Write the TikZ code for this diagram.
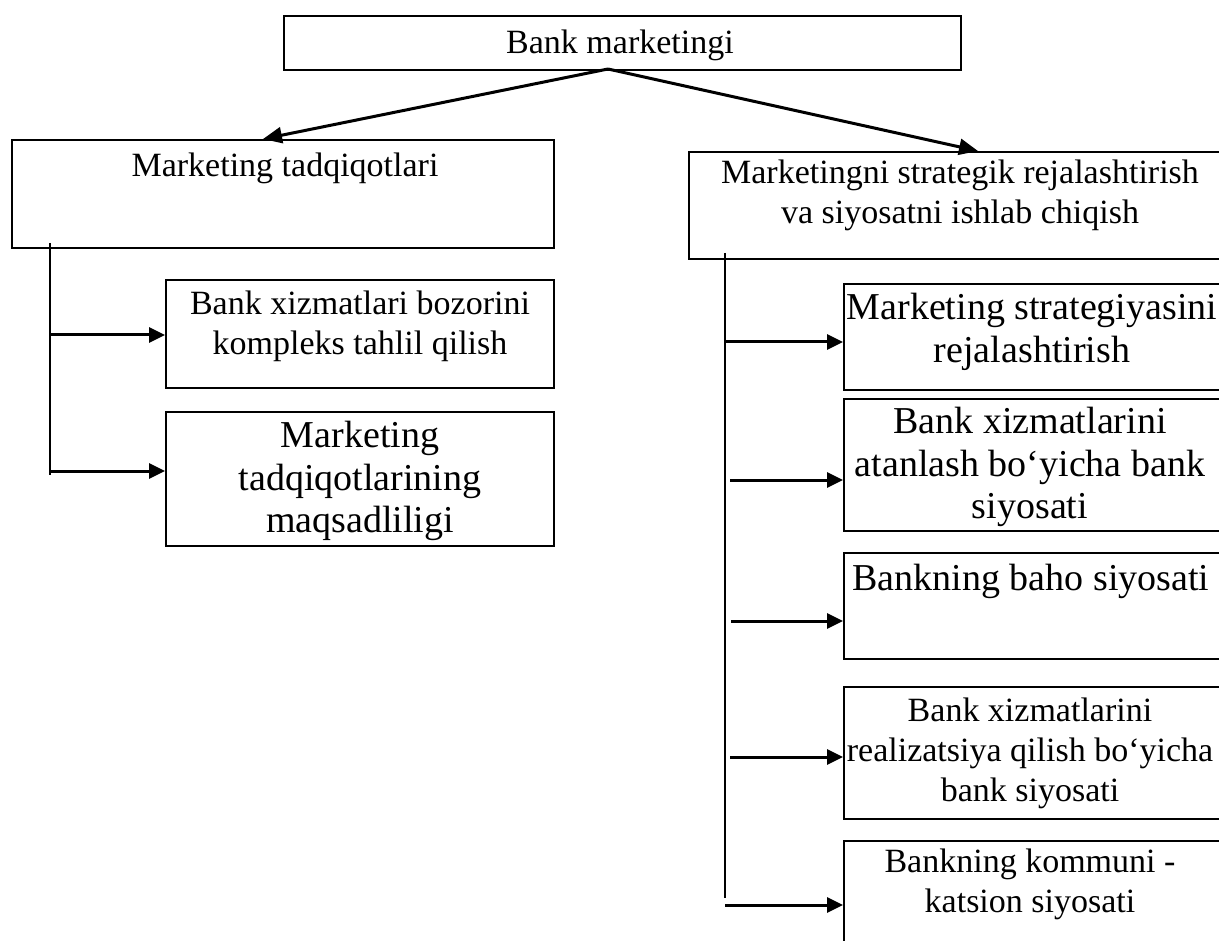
\documentclass[tikz,border=0pt]{standalone}
\usepackage{fontspec}
\setmainfont{Liberation Serif}
\usetikzlibrary{arrows.meta}
\begin{document}
\begin{tikzpicture}[x=1pt,y=-1pt,
  box/.style={draw,line width=2.1pt,inner sep=0pt,anchor=north west},
  txt/.style={align=center,inner sep=0pt,anchor=north},
  small/.style={font=\fontsize{34}{40}\selectfont},
  large/.style={font=\fontsize{38}{42.5}\selectfont},
  arr/.style={line width=3pt,-{Triangle[length=16pt,width=15pt]}},
  darr/.style={line width=3pt,-{Triangle[length=19pt,width=16pt]}},
  spine/.style={line width=1.9pt}]
\useasboundingbox (0,0) rectangle (1219,941);
\clip (0,0) rectangle (1219,941);

% boxes
\node[box,minimum width=677pt,minimum height=54pt]  (top)   at (283,15)  {};
\node[box,minimum width=542pt,minimum height=108pt] (res)   at (11,139)  {};
\node[box,minimum width=560pt,minimum height=107pt] (strat) at (688,151) {};
\node[box,minimum width=388pt,minimum height=108pt] (l1)    at (165,279) {};
\node[box,minimum width=388pt,minimum height=134pt] (l2)    at (165,411) {};
\node[box,minimum width=400pt,minimum height=106pt] (r1)    at (843,283) {};
\node[box,minimum width=400pt,minimum height=132pt] (r2)    at (843,398) {};
\node[box,minimum width=400pt,minimum height=106pt] (r3)    at (843,552) {};
\node[box,minimum width=400pt,minimum height=132pt] (r4)    at (843,686) {};
\node[box,minimum width=400pt,minimum height=130pt] (r5)    at (843,840) {};

% labels
\node[txt,small] (topT)   at (620,30)  {Bank marketingi};
\node[txt,small] (resT)   at (285,153) {Marketing tadqiqotlari};
\node[txt,small] (stratT) at (960,160) {Marketingni strategik rejalashtirish\\va siyosatni ishlab chiqish};
\node[txt,small] (l1T)    at (360,291) {Bank xizmatlari bozorini\\kompleks tahlil qilish};
\node[txt,large] (l2T)    at (360,421) {Marketing\\tadqiqotlarining\\maqsadliligi};
\node[txt,large] (r1T)    at (1032,293) {Marketing strategiyasini\\rejalashtirish};
\node[txt,large] (r2T)    at (1030,407) {Bank xizmatlarini\\atanlash bo‘yicha bank\\siyosati};
\node[txt,large] (r3T)    at (1031,564) {Bankning baho siyosati};
\node[txt,small] (r4T)    at (1030,698) {Bank xizmatlarini\\realizatsiya qilish bo‘yicha\\bank siyosati};
\node[txt,small] (r5T)    at (1030,849) {Bankning kommuni -\\katsion siyosati};

% top level split
\coordinate (fork)    at (608,69);
\coordinate (resIn)   at (263,139);
\coordinate (stratIn) at (978,151);
\draw[darr] (fork) -- (resIn);
\draw[darr] (fork) -- (stratIn);

% left branch
\coordinate (sL0) at (50,243);
\coordinate (sL1) at (50,475);
\draw[spine] (sL0) -- (sL1);
\coordinate (a1) at (50,335);
\coordinate (a2) at (50,471);
\draw[arr] (a1) -- (a1 -| l1.west);
\draw[arr] (a2) -- (a2 -| l2.west);

% right branch
\coordinate (sR0) at (725,253);
\coordinate (sR1) at (725,898);
\draw[spine] (sR0) -- (sR1);
\coordinate (b1) at (725,342);
\coordinate (b2) at (730,480);
\coordinate (b3) at (731,621);
\coordinate (b4) at (730,757);
\coordinate (b5) at (725,905);
\draw[arr] (b1) -- (b1 -| r1.west);
\draw[arr] (b2) -- (b2 -| r2.west);
\draw[arr] (b3) -- (b3 -| r3.west);
\draw[arr] (b4) -- (b4 -| r4.west);
\draw[arr] (b5) -- (b5 -| r5.west);
\end{tikzpicture}
\end{document}
